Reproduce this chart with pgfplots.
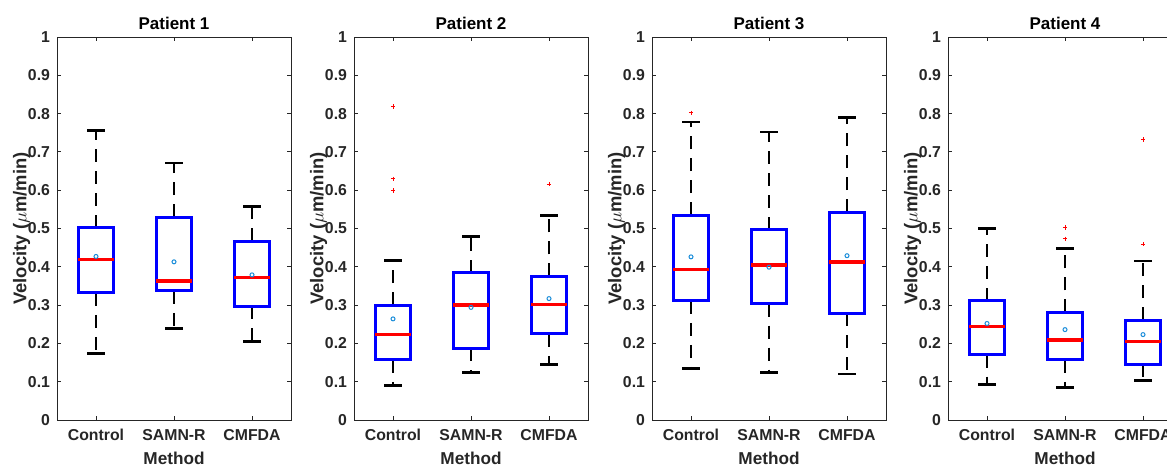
\documentclass[border=0pt]{standalone}
\usepackage{fontspec}
\setmainfont{Liberation Sans}
\usepackage{pgfplots}
\pgfplotsset{compat=1.18}
\usepgfplotslibrary{statistics}

\definecolor{axgray}{rgb}{0.15,0.15,0.15}
\definecolor{meanblue}{rgb}{0.1,0.55,0.85}

\pgfplotsset{
  panel/.style={
    scale only axis, width=117pt, height=191.5pt, anchor=south west,
    xmin=0.5, xmax=3.5, ymin=0, ymax=1,
    xtick={1,2,3}, xticklabels={Control,SAMN-R,CMFDA},
    ytick={0,0.1,0.2,0.3,0.4,0.5,0.6,0.7,0.8,0.9,1},
    /pgf/number format/assume math mode=true,
    tick align=inside, major tick length=2pt,
    tick style={axgray, line width=0.5pt},
    axis line style={axgray, line width=0.5pt},
    tick label style={font=\fontsize{7.9}{9}\selectfont\bfseries, text=axgray},
    xticklabel style={yshift=-1pt},
    title style={font=\fontsize{8.5}{10}\selectfont\bfseries, yshift=-6pt},
    label style={font=\fontsize{8.6}{10}\selectfont\bfseries, text=axgray},
    xlabel style={yshift=1pt},
    ylabel style={font=\fontsize{9.2}{10}\selectfont\bfseries, yshift=-8pt},
    xlabel={Method}, ylabel={Velocity ($\mu$m/min)},
  },
  mybox/.style={
    boxplot/draw direction=y,
    boxplot/box extend=0.46,
    boxplot/whisker extend=0.23,
    boxplot/draw/lower whisker/.code={
      \draw[black, line width=1.4pt, dash pattern=on 6.5pt off 4.5pt]
        (boxplot cs:\pgfplotsboxplotvalue{lower quartile}) -- (boxplot cs:\pgfplotsboxplotvalue{lower whisker});
      \draw[black, line width=1.4pt]
        (boxplot whisker cs:\pgfplotsboxplotvalue{lower whisker},0) -- (boxplot whisker cs:\pgfplotsboxplotvalue{lower whisker},1);
    },
    boxplot/draw/upper whisker/.code={
      \draw[black, line width=1.4pt, dash pattern=on 6.5pt off 4.5pt]
        (boxplot cs:\pgfplotsboxplotvalue{upper quartile}) -- (boxplot cs:\pgfplotsboxplotvalue{upper whisker});
      \draw[black, line width=1.4pt]
        (boxplot whisker cs:\pgfplotsboxplotvalue{upper whisker},0) -- (boxplot whisker cs:\pgfplotsboxplotvalue{upper whisker},1);
    },
    boxplot/draw/box/.code={
      \draw[blue, line width=1.5pt]
        (boxplot box cs:\pgfplotsboxplotvalue{lower quartile},0) rectangle (boxplot box cs:\pgfplotsboxplotvalue{upper quartile},1);
    },
    boxplot/draw/median/.code={
      \draw[red, line width=1.7pt]
        (boxplot box cs:\pgfplotsboxplotvalue{median},0) -- (boxplot box cs:\pgfplotsboxplotvalue{median},1);
    },
  },
  outl/.style={only marks, mark=+, mark size=1.1pt, red, mark options={line width=0.5pt}},
  means/.style={only marks, mark=o, mark size=1pt, meanblue, mark options={line width=0.5pt}},
}

\begin{document}
\begin{tikzpicture}
\useasboundingbox (0,0) rectangle (583.5pt,234pt);

% Patient 1
\begin{axis}[panel, at={(28.5pt,24pt)}, title={Patient 1}]
\addplot[mybox, boxplot prepared={draw position=1, lower whisker=0.174, lower quartile=0.332, median=0.419, upper quartile=0.502, upper whisker=0.755}] coordinates {};
\addplot[mybox, boxplot prepared={draw position=2, lower whisker=0.239, lower quartile=0.337, median=0.363, upper quartile=0.530, upper whisker=0.671}] coordinates {};
\addplot[mybox, boxplot prepared={draw position=3, lower whisker=0.205, lower quartile=0.297, median=0.372, upper quartile=0.467, upper whisker=0.558}] coordinates {};
\addplot[means] coordinates {(1,0.427) (2,0.413) (3,0.379)};
\end{axis}

% Patient 2
\begin{axis}[panel, at={(177pt,24pt)}, title={Patient 2}]
\addplot[mybox, boxplot prepared={draw position=1, lower whisker=0.091, lower quartile=0.157, median=0.224, upper quartile=0.300, upper whisker=0.416}] coordinates {};
\addplot[mybox, boxplot prepared={draw position=2, lower whisker=0.124, lower quartile=0.187, median=0.300, upper quartile=0.385, upper whisker=0.479}] coordinates {};
\addplot[mybox, boxplot prepared={draw position=3, lower whisker=0.144, lower quartile=0.225, median=0.301, upper quartile=0.375, upper whisker=0.534}] coordinates {};
\addplot[outl] coordinates {(1,0.819) (1,0.630) (1,0.599) (3,0.616)};
\addplot[means] coordinates {(1,0.264) (2,0.294) (3,0.317)};
\end{axis}

% Patient 3
\begin{axis}[panel, at={(326pt,24pt)}, title={Patient 3}]
\addplot[mybox, boxplot prepared={draw position=1, lower whisker=0.134, lower quartile=0.311, median=0.393, upper quartile=0.535, upper whisker=0.778}] coordinates {};
\addplot[mybox, boxplot prepared={draw position=2, lower whisker=0.125, lower quartile=0.304, median=0.405, upper quartile=0.497, upper whisker=0.752}] coordinates {};
\addplot[mybox, boxplot prepared={draw position=3, lower whisker=0.120, lower quartile=0.279, median=0.413, upper quartile=0.543, upper whisker=0.789}] coordinates {};
\addplot[outl] coordinates {(1,0.802)};
\addplot[means] coordinates {(1,0.426) (2,0.399) (3,0.429)};
\end{axis}

% Patient 4
\begin{axis}[panel, at={(474pt,24pt)}, title={Patient 4}]
\addplot[mybox, boxplot prepared={draw position=1, lower whisker=0.092, lower quartile=0.171, median=0.244, upper quartile=0.312, upper whisker=0.499}] coordinates {};
\addplot[mybox, boxplot prepared={draw position=2, lower whisker=0.084, lower quartile=0.157, median=0.209, upper quartile=0.281, upper whisker=0.447}] coordinates {};
\addplot[mybox, boxplot prepared={draw position=3, lower whisker=0.104, lower quartile=0.145, median=0.205, upper quartile=0.261, upper whisker=0.415}] coordinates {};
\addplot[outl] coordinates {(2,0.503) (2,0.473) (3,0.732) (3,0.459)};
\addplot[means] coordinates {(1,0.252) (2,0.236) (3,0.223)};
\end{axis}
\end{tikzpicture}
\end{document}
